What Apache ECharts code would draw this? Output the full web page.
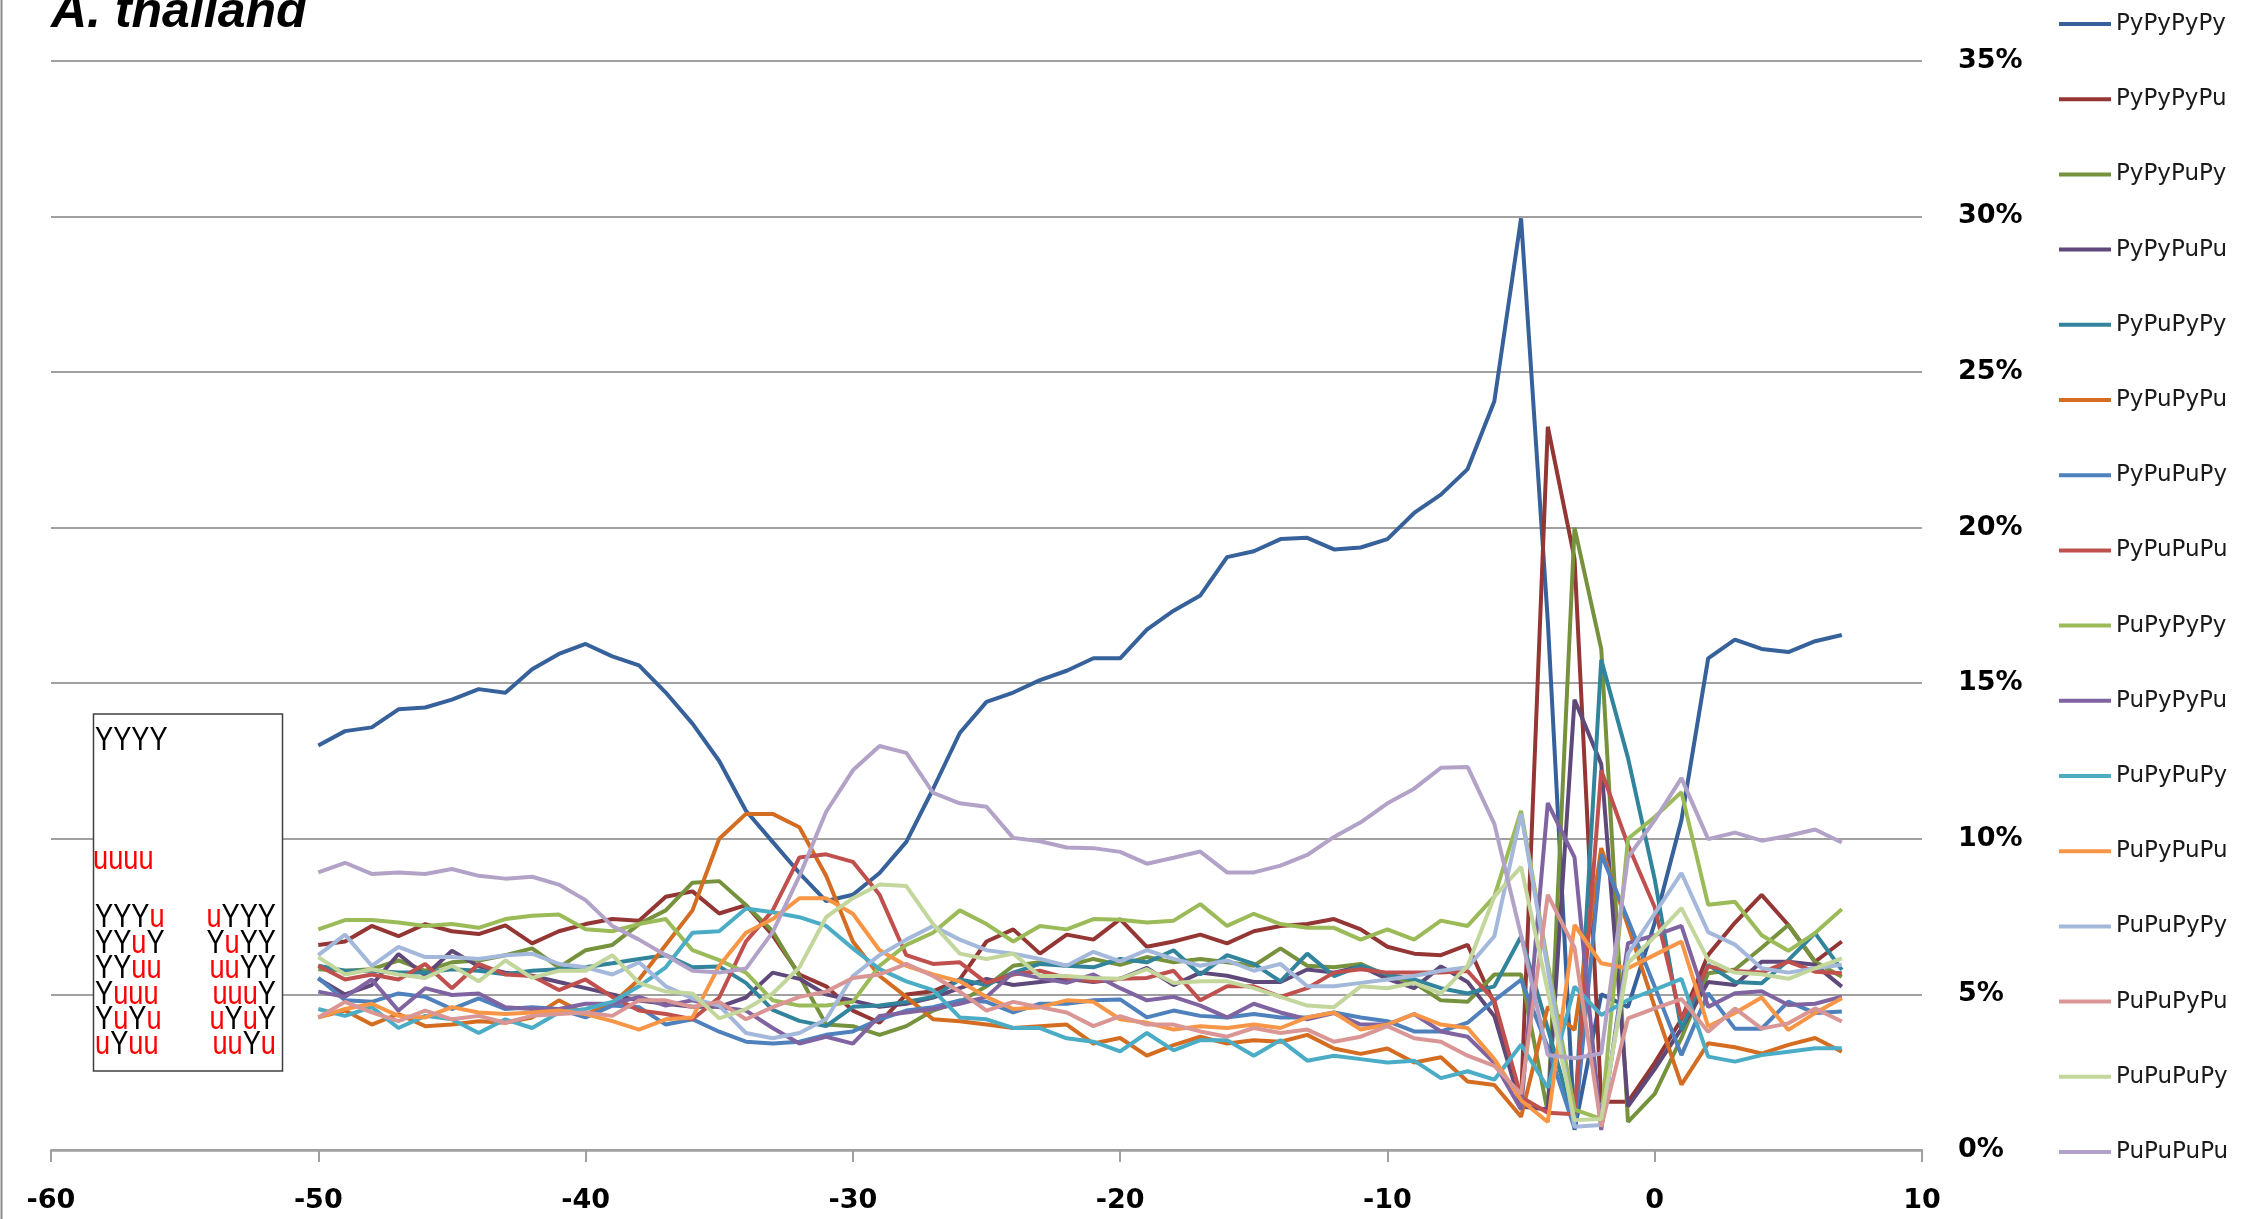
<!DOCTYPE html>
<html>
<head>
<meta charset="utf-8">
<title>A. thailand</title>
<script src="https://cdn.jsdelivr.net/npm/echarts@6/dist/echarts.min.js"></script>
<style>
  html, body { margin: 0; padding: 0; background: #fff; }
  #chart { width: 2241px; height: 1219px; }
</style>
</head>
<body>
<div id="chart"></div>
<script>
// position relative to the site (x axis)
const positions = [-50, -49, -48, -47, -46, -45, -44, -43, -42, -41,
  -40, -39, -38, -37, -36, -35, -34, -33, -32, -31,
  -30, -29, -28, -27, -26, -25, -24, -23, -22, -21,
  -20, -19, -18, -17, -16, -15, -14, -13, -12, -11,
  -10, -9, -8, -7, -6, -5, -4, -3, -2, -1,
  0, 1, 2, 3, 4, 5, 6, 7];

const seriesNames = ['PyPyPyPy', 'PyPyPyPu', 'PyPyPuPy', 'PyPyPuPu',
  'PyPuPyPy', 'PyPuPyPu', 'PyPuPuPy', 'PyPuPuPu',
  'PuPyPyPy', 'PuPyPyPu', 'PuPyPuPy', 'PuPyPuPu',
  'PuPuPyPy', 'PuPuPyPu', 'PuPuPuPy', 'PuPuPuPu'];

// values in percent, one per position
const PyPyPyPy = [13.0, 13.46, 13.58, 14.16, 14.22, 14.47, 14.81, 14.69, 15.45, 15.94,
  16.26, 15.86, 15.57, 14.7, 13.7, 12.5, 10.9, 9.9, 8.9, 8.0,
  8.2, 8.9, 9.9, 11.6, 13.4, 14.4, 14.7, 15.1, 15.4, 15.8,
  15.8, 16.72, 17.33, 17.82, 19.05, 19.24, 19.63, 19.67, 19.3, 19.36,
  19.63, 20.47, 21.06, 21.88, 24.06, 29.94, 17.0, 0.65, 5.0, 4.6,
  7.3, 10.6, 15.8, 16.4, 16.1, 16.0, 16.35, 16.55];
const PyPyPyPu = [6.59, 6.7, 7.2, 6.87, 7.26, 7.03, 6.94, 7.22, 6.64, 7.03,
  7.26, 7.42, 7.37, 8.14, 8.31, 7.6, 7.87, 6.9, 5.64, 5.26,
  4.48, 4.09, 5.0, 5.1, 5.48, 6.7, 7.09, 6.31, 6.92, 6.76,
  7.42, 6.53, 6.7, 6.92, 6.64, 7.03, 7.2, 7.26, 7.42, 7.09,
  6.53, 6.31, 6.26, 6.59, 4.7, 1.6, 23.24, 19.0, 1.55, 1.55,
  2.8, 4.2, 6.27, 7.3, 8.2, 7.23, 6.05, 6.7];
const PyPyPuPy = [5.81, 5.76, 5.81, 6.09, 5.76, 6.03, 6.09, 6.26, 6.48, 5.87,
  6.42, 6.59, 7.26, 7.7, 8.59, 8.64, 7.87, 7.03, 5.59, 4.03,
  3.98, 3.7, 3.98, 4.48, 4.76, 5.26, 5.92, 6.03, 5.92, 6.14,
  5.95, 6.2, 6.03, 6.14, 6.03, 5.92, 6.48, 5.92, 5.87, 5.98,
  5.59, 5.37, 4.81, 4.76, 5.64, 5.64, 1.2, 20.0, 16.1, 0.9,
  1.8, 3.6, 5.68, 5.8, 6.5, 7.23, 6.05, 5.57];
const PyPyPuPu = [5.5, 5.0, 5.3, 6.3, 5.6, 6.4, 5.9, 5.7, 5.6, 5.4,
  5.2, 5.0, 4.8, 4.7, 4.6, 4.6, 4.9, 5.7, 5.5, 5.0,
  4.8, 4.6, 4.7, 4.9, 5.2, 5.5, 5.3, 5.4, 5.5, 5.4,
  5.5, 5.85, 5.3, 5.7, 5.6, 5.4, 5.4, 5.8, 5.7, 5.9,
  5.5, 5.2, 5.9, 5.4, 4.3, 1.4, 1.3, 14.47, 12.4, 1.4,
  2.6, 3.9, 5.4, 5.3, 6.05, 6.05, 5.95, 5.25];
const PyPuPyPy = [5.92, 5.76, 5.76, 5.7, 5.7, 5.81, 5.76, 5.65, 5.76, 5.81,
  5.87, 6.0, 6.14, 6.26, 5.87, 5.9, 5.37, 4.5, 4.15, 3.98,
  4.6, 4.64, 4.76, 4.92, 5.48, 5.3, 5.7, 5.98, 5.92, 5.87,
  6.14, 6.03, 6.42, 5.64, 6.26, 5.98, 5.42, 6.31, 5.59, 5.92,
  5.64, 5.48, 5.2, 5.03, 5.26, 6.86, 3.9, 0.9, 15.75, 12.6,
  8.7, 3.86, 5.95, 5.4, 5.36, 6.1, 6.97, 5.79];
const PyPuPyPu = [4.26, 4.48, 4.03, 4.37, 3.98, 4.03, 4.14, 4.09, 4.26, 4.81,
  4.37, 4.7, 5.48, 6.59, 7.7, 10.0, 10.8, 10.8, 10.37, 8.81,
  6.7, 5.59, 4.92, 4.2, 4.14, 4.03, 3.92, 3.98, 4.03, 3.42,
  3.6, 3.03, 3.37, 3.64, 3.42, 3.53, 3.48, 3.7, 3.26, 3.09,
  3.26, 2.81, 2.98, 2.2, 2.09, 1.07, 4.6, 3.86, 9.7, 7.2,
  4.6, 2.1, 3.43, 3.3, 3.1, 3.38, 3.6, 3.16];
const PyPuPuPy = [5.53, 4.81, 4.76, 5.03, 4.92, 4.53, 4.87, 4.53, 4.59, 4.53,
  4.26, 4.64, 4.59, 4.03, 4.2, 3.8, 3.48, 3.42, 3.48, 3.7,
  3.81, 4.2, 4.48, 4.59, 4.81, 4.76, 4.42, 4.7, 4.7, 4.81,
  4.84, 4.26, 4.48, 4.31, 4.26, 4.37, 4.26, 4.26, 4.42, 4.26,
  4.14, 3.81, 3.81, 4.09, 4.81, 5.47, 3.3, 0.7, 9.5, 7.4,
  5.25, 3.05, 5.04, 3.9, 3.9, 4.77, 4.4, 4.45];
const PyPuPuPu = [5.92, 5.48, 5.64, 5.48, 5.98, 5.2, 5.98, 5.64, 5.59, 5.14,
  5.48, 4.92, 4.48, 4.37, 4.2, 4.9, 6.7, 7.7, 9.4, 9.5,
  9.26, 8.2, 6.26, 5.98, 6.03, 5.37, 5.64, 5.76, 5.53, 5.42,
  5.5, 5.53, 5.76, 4.81, 5.26, 5.26, 4.92, 5.2, 5.7, 5.81,
  5.7, 5.7, 5.7, 5.75, 4.8, 1.7, 1.2, 1.15, 12.2, 9.8,
  7.8, 4.2, 5.9, 5.75, 5.7, 6.05, 5.73, 5.68];
const PuPyPyPy = [7.09, 7.39, 7.39, 7.31, 7.2, 7.26, 7.14, 7.42, 7.53, 7.57,
  7.09, 7.03, 7.26, 7.42, 6.42, 6.1, 5.7, 4.81, 4.64, 4.64,
  4.76, 5.92, 6.59, 6.98, 7.7, 7.26, 6.7, 7.2, 7.09, 7.42,
  7.4, 7.31, 7.37, 7.9, 7.2, 7.59, 7.26, 7.14, 7.14, 6.76,
  7.09, 6.76, 7.37, 7.2, 8.14, 10.9, 6.0, 1.3, 1.0, 10.0,
  10.7, 11.5, 7.88, 7.98, 6.9, 6.4, 6.97, 7.74];
const PuPyPyPu = [5.09, 4.92, 5.48, 4.48, 5.2, 4.98, 5.03, 4.59, 4.53, 4.53,
  4.7, 4.7, 4.92, 4.64, 4.81, 4.59, 4.48, 3.92, 3.42, 3.64,
  3.42, 4.31, 4.42, 4.53, 4.7, 4.92, 5.7, 5.53, 5.37, 5.64,
  5.2, 4.81, 4.92, 4.64, 4.26, 4.7, 4.42, 4.2, 4.4, 4.03,
  4.03, 4.37, 3.81, 3.64, 2.8, 1.3, 11.15, 9.4, 0.64, 6.65,
  6.9, 7.2, 4.6, 5.04, 5.1, 4.66, 4.7, 4.93];
const PuPyPuPy = [4.53, 4.31, 4.59, 3.92, 4.31, 4.2, 3.76, 4.2, 3.92, 4.42,
  4.53, 4.76, 5.26, 5.87, 6.98, 7.03, 7.76, 7.64, 7.48, 7.2,
  6.48, 5.81, 5.42, 5.14, 4.26, 4.2, 3.92, 3.92, 3.59, 3.48,
  3.17, 3.76, 3.2, 3.53, 3.53, 3.03, 3.53, 2.87, 3.03, 2.92,
  2.81, 2.87, 2.31, 2.53, 2.26, 3.38, 2.0, 5.25, 4.34, 4.82,
  5.15, 5.5, 3.0, 2.84, 3.05, 3.16, 3.27, 3.27];
const PuPyPuPu = [4.26, 4.53, 4.7, 4.31, 4.26, 4.59, 4.42, 4.37, 4.42, 4.48,
  4.37, 4.14, 3.87, 4.2, 4.26, 5.92, 6.98, 7.42, 8.09, 8.09,
  7.59, 6.42, 5.92, 5.64, 5.42, 4.92, 4.53, 4.59, 4.81, 4.76,
  4.2, 4.09, 3.87, 3.98, 3.92, 4.03, 3.92, 4.26, 4.42, 3.87,
  4.03, 4.37, 4.03, 3.92, 2.92, 1.6, 0.9, 7.23, 6.0, 5.84,
  6.27, 6.7, 3.97, 4.4, 4.9, 3.86, 4.4, 4.88];
const PuPuPyPy = [6.26, 6.92, 5.92, 6.53, 6.2, 6.2, 6.14, 6.26, 6.31, 5.98,
  5.87, 5.64, 6.03, 5.26, 4.87, 4.64, 3.76, 3.59, 3.76, 4.2,
  5.59, 6.26, 6.76, 7.2, 6.76, 6.42, 6.31, 6.14, 5.92, 6.37,
  6.06, 6.42, 6.14, 5.92, 6.09, 5.76, 5.98, 5.26, 5.26, 5.37,
  5.48, 5.59, 5.76, 5.87, 6.87, 10.8, 5.8, 0.75, 0.8, 6.3,
  7.6, 8.9, 7.0, 6.6, 5.84, 5.7, 5.84, 5.95];
const PuPuPyPu = [4.26, 4.76, 4.42, 4.14, 4.48, 4.2, 4.31, 4.09, 4.31, 4.37,
  4.42, 4.31, 4.81, 4.81, 4.59, 4.76, 4.2, 4.59, 4.92, 5.09,
  5.53, 5.64, 5.98, 5.59, 5.09, 4.48, 4.76, 4.59, 4.42, 3.98,
  4.3, 4.03, 4.03, 3.81, 3.64, 3.92, 3.76, 3.87, 3.48, 3.64,
  3.98, 3.59, 3.48, 3.03, 2.7, 1.8, 8.2, 6.5, 0.75, 4.23,
  4.55, 4.85, 3.8, 4.55, 3.9, 4.07, 4.55, 4.13];
const PuPuPuPy = [6.2, 5.64, 5.81, 5.64, 5.53, 5.92, 5.42, 6.09, 5.53, 5.76,
  5.76, 6.26, 5.37, 5.09, 5.03, 4.23, 4.53, 5.03, 5.87, 7.48,
  8.09, 8.53, 8.48, 7.26, 6.31, 6.14, 6.31, 5.59, 5.59, 5.53,
  5.5, 5.81, 5.37, 5.42, 5.42, 5.2, 4.92, 4.64, 4.59, 5.26,
  5.2, 5.37, 5.03, 5.92, 8.14, 9.1, 5.1, 0.96, 1.0, 6.0,
  6.86, 7.77, 6.1, 5.7, 5.65, 5.5, 5.84, 6.16];
const PuPuPuPu = [8.92, 9.23, 8.87, 8.92, 8.87, 9.03, 8.81, 8.72, 8.78, 8.53,
  8.03, 7.2, 6.76, 6.26, 5.76, 5.7, 5.83, 7.0, 8.8, 10.87,
  12.2, 12.98, 12.76, 11.48, 11.14, 11.03, 10.03, 9.92, 9.72, 9.7,
  9.58, 9.2, 9.39, 9.59, 8.92, 8.92, 9.14, 9.48, 10.06, 10.53,
  11.14, 11.61, 12.28, 12.31, 10.48, 6.9, 3.05, 2.95, 3.1, 9.4,
  10.6, 11.95, 9.99, 10.2, 9.94, 10.1, 10.3, 9.88];

const seriesValues = [PyPyPyPy, PyPyPyPu, PyPyPuPy, PyPyPuPu,
  PyPuPyPy, PyPuPyPu, PyPuPuPy, PyPuPuPu,
  PuPyPyPy, PuPyPyPu, PuPyPuPy, PuPyPuPu,
  PuPuPyPy, PuPuPyPu, PuPuPuPy, PuPuPuPu];

// tick labels
const xTicks = [-60, -50, -40, -30, -20, -10, 0, 10];
const yTicks = [0, 5, 10, 15, 20, 25, 30, 35];

// inset box motif rows (Y black, u red)
const insetTop = 'YYYY';
const insetMid = 'uuuu';
const insetLeft = ['YYYu', 'YYuY', 'YYuu', 'Yuuu', 'YuYu', 'uYuu'];
const insetRight = ['uYYY', 'YuYY', 'uuYY', 'uuuY', 'uYuY', 'uuYu'];

const palette = ['#36619a', '#943634', '#76923c', '#5f497a',
  '#31849b', '#d46d22', '#4f81bd', '#c0504d',
  '#9bbb59', '#8064a2', '#4bacc6', '#f79646',
  '#a3b8da', '#d99694', '#c3d69b', '#b3a2c7'];

const sansFont = 'Liberation Sans, Arial, sans-serif';
const wideFont = 'DejaVu Sans, sans-serif';

const chart = echarts.init(document.getElementById('chart'), null, { renderer: 'canvas' });

const series = seriesNames.map((name, i) => ({
  name: name,
  type: 'line',
  data: positions.map((x, j) => [x, seriesValues[i][j]]),
  symbol: 'none',
  smooth: false,
  lineStyle: { width: 4, color: palette[i] },
  itemStyle: { color: palette[i] },
  emphasis: { disabled: true },
  animation: false
}));

// rich text: Y in black, u in red
const motif = s => s.replace(/Y+|u+/g, m => '{' + m[0] + '|' + m + '}');
const motifRich = {
  Y: { fill: '#000', fontSize: 34, fontFamily: sansFont },
  u: { fill: '#ff0000', fontSize: 34, fontFamily: sansFont }
};
const motifText = (s, x, baseline, align) => ({
  type: 'text',
  x: x,
  y: baseline - 12,
  scaleX: 0.8,
  z: 110,
  style: { text: motif(s), rich: motifRich, align: align, verticalAlign: 'middle' }
});

const insetRows = [];
insetLeft.forEach((s, i) => {
  insetRows.push(motifText(s, 95, 930 + i * 25.4, 'left'));
  insetRows.push(motifText(insetRight[i], 276, 930 + i * 25.4, 'right'));
});

chart.setOption({
  backgroundColor: '#fff',
  animation: false,
  grid: { left: 51, right: 319, top: 60.8, bottom: 69, containLabel: false },
  legend: {
    orient: 'vertical',
    left: 2059,
    top: 12,
    padding: 0,
    icon: 'rect',
    itemWidth: 52,
    itemHeight: 4,
    itemGap: 51.2,
    data: seriesNames,
    textStyle: { fontSize: 23, lineHeight: 24, color: '#1a1a1a', fontFamily: wideFont }
  },
  xAxis: {
    type: 'value',
    min: -60,
    max: 10,
    interval: 10,
    axisLine: { show: true, lineStyle: { color: '#a0a0a0', width: 2.5 } },
    axisTick: { show: true, length: 12, lineStyle: { color: '#a0a0a0', width: 2 } },
    axisLabel: {
      margin: 37,
      fontSize: 27,
      fontWeight: 'bold',
      color: '#000',
      fontFamily: wideFont,
      formatter: v => xTicks.includes(v) ? String(v) : ''
    },
    splitLine: { show: false }
  },
  yAxis: {
    type: 'value',
    position: 'right',
    min: 0,
    max: 35,
    interval: 5,
    axisLine: { show: false },
    axisTick: { show: false },
    axisLabel: {
      margin: 36,
      fontSize: 27,
      fontWeight: 'bold',
      color: '#000',
      fontFamily: wideFont,
      formatter: v => yTicks.includes(v) ? v + '%' : ''
    },
    splitLine: { show: true, lineStyle: { color: '#a0a0a0', width: 2 } }
  },
  graphic: [
    {
      type: 'line',
      shape: { x1: 1.5, y1: 0, x2: 1.5, y2: 1219 },
      style: { stroke: '#8a8a8a', lineWidth: 2 }
    },
    {
      type: 'text',
      left: 51,
      top: -12,
      style: {
        text: 'A. thailand',
        fontSize: 50,
        fontWeight: 'bold',
        fontStyle: 'italic',
        fontFamily: sansFont,
        fill: '#000'
      }
    },
    {
      type: 'rect',
      shape: { x: 93.5, y: 714, width: 189, height: 357 },
      style: { fill: '#fff', stroke: '#404040', lineWidth: 1.5 },
      z: 100
    },
    motifText(insetTop, 95, 753, 'left'),
    motifText(insetMid, 93, 872, 'left'),
    ...insetRows
  ],
  series: series
});
</script>
</body>
</html>
